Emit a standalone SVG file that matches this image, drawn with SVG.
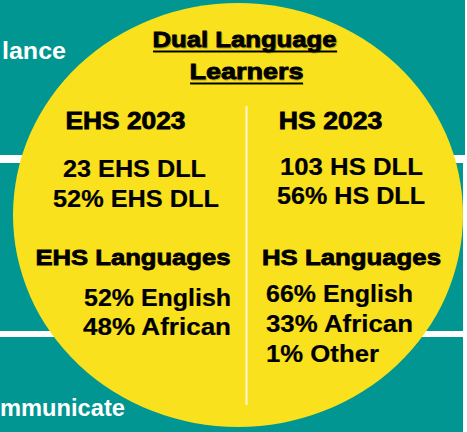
<svg xmlns="http://www.w3.org/2000/svg" width="467" height="432" viewBox="0 0 467 432">
  <defs>
    <style>
      .bg { fill: #ffffff; }
      .band { fill: #019691; }
      .white { font-family: "Liberation Sans", Arial, sans-serif; font-weight: bold; fill: #ffffff; font-size: 24px; }
      .head { font-family: "Liberation Sans", Arial, sans-serif; font-weight: bold; fill: #000000; stroke: #000000; stroke-width: 0.8; font-size: 22.5px; }
      .data { font-family: "Liberation Sans", Arial, sans-serif; font-weight: bold; fill: #000000; stroke: #000000; stroke-width: 0.2; font-size: 24px; }
      .shadow { fill: #6f6400; stroke: #6f6400; opacity: 0.45; }
    </style>
  </defs>
  <rect class="bg" x="0" y="0" width="467" height="432"/>
  <g id="background-bands">
    <rect class="band" x="0" y="0" width="465" height="155"/>
    <rect class="band" x="0" y="163" width="463" height="168"/>
    <rect class="band" x="0" y="337" width="463" height="95"/>
    <text class="white" x="2" y="59" textLength="64" lengthAdjust="spacingAndGlyphs">lance</text>
    <text class="white" x="0" y="416" textLength="125" lengthAdjust="spacingAndGlyphs">mmunicate</text>
  </g>
  <g id="circle">
    <ellipse cx="238" cy="215" rx="225" ry="212" fill="#f9e11d"/>
    <line x1="246.5" y1="106" x2="246.5" y2="405" stroke="#fff8d8" stroke-width="2"/>
  </g>
  <g id="title">
    <text class="head shadow" x="153.5" y="47.7" textLength="184" lengthAdjust="spacingAndGlyphs">Dual Language</text>
    <text class="head shadow" x="190.5" y="80" textLength="113" lengthAdjust="spacingAndGlyphs">Learners</text>
    <rect x="153.5" y="51.5" width="184" height="1.5" fill="#6f6400" opacity="0.45"/>
    <rect x="190.5" y="83.5" width="113" height="1.5" fill="#6f6400" opacity="0.45"/>
    <text class="head" x="152.5" y="46.7" textLength="184" lengthAdjust="spacingAndGlyphs">Dual Language</text>
    <text class="head" x="189.5" y="79" textLength="114" lengthAdjust="spacingAndGlyphs">Learners</text>
    <rect x="153" y="50.5" width="184" height="1.8" fill="#000"/>
    <rect x="190" y="82.5" width="113" height="1.8" fill="#000"/>
  </g>
  <g id="ehs">
    <text class="head" x="65.5" y="129.3" textLength="120" lengthAdjust="spacingAndGlyphs" style="font-size:23.5px">EHS 2023</text>
    <text class="data" x="63" y="176.7" textLength="143" lengthAdjust="spacingAndGlyphs">23 EHS DLL</text>
    <text class="data" x="53" y="206.5" textLength="166" lengthAdjust="spacingAndGlyphs">52% EHS DLL</text>
    <text class="head" x="35.5" y="265" textLength="195" lengthAdjust="spacingAndGlyphs">EHS Languages</text>
    <text class="data" x="84" y="306" textLength="147" lengthAdjust="spacingAndGlyphs">52% English</text>
    <text class="data" x="83" y="335" textLength="148" lengthAdjust="spacingAndGlyphs">48% African</text>
  </g>
  <g id="hs">
    <text class="head" x="278.8" y="129.3" textLength="103.5" lengthAdjust="spacingAndGlyphs" style="font-size:23.5px">HS 2023</text>
    <text class="data" x="280" y="175" textLength="143" lengthAdjust="spacingAndGlyphs">103 HS DLL</text>
    <text class="data" x="277" y="204" textLength="148" lengthAdjust="spacingAndGlyphs">56% HS DLL</text>
    <text class="head" x="262" y="265" textLength="179" lengthAdjust="spacingAndGlyphs">HS Languages</text>
    <text class="data" x="266" y="301.7" textLength="147" lengthAdjust="spacingAndGlyphs">66% English</text>
    <text class="data" x="266" y="331.7" textLength="147" lengthAdjust="spacingAndGlyphs">33% African</text>
    <text class="data" x="266" y="361.7" textLength="113" lengthAdjust="spacingAndGlyphs">1% Other</text>
  </g>
</svg>
